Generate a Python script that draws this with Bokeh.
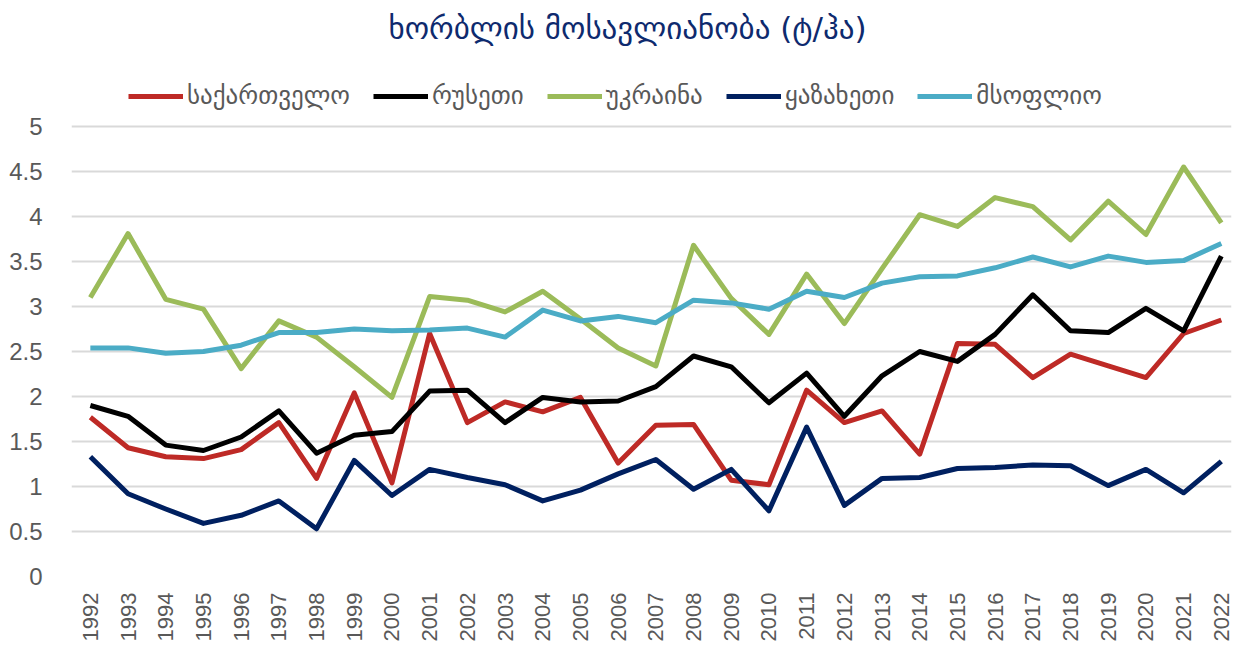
import math
from bokeh.plotting import figure
from bokeh.models import Legend, LegendItem, Range1d, FixedTicker, Label
from bokeh.embed import file_html
from bokeh.resources import INLINE

years = list(range(1992, 2023))
georgia = [1.77, 1.43, 1.33, 1.31, 1.41, 1.71, 1.09, 2.04, 1.04, 2.70, 1.71, 1.94, 1.83, 1.99, 1.26, 1.68,
           1.69, 1.07, 1.02, 2.07, 1.71, 1.84, 1.36, 2.59, 2.58, 2.21, 2.47, 2.34, 2.21, 2.70, 2.85]
russia = [1.90, 1.78, 1.46, 1.40, 1.55, 1.84, 1.37, 1.57, 1.61, 2.06, 2.07, 1.71, 1.99, 1.94, 1.95, 2.11,
          2.45, 2.33, 1.93, 2.26, 1.78, 2.23, 2.50, 2.39, 2.69, 3.13, 2.73, 2.71, 2.98, 2.73, 3.56]
ukraine = [3.10, 3.81, 3.08, 2.97, 2.31, 2.84, 2.66, 2.33, 1.99, 3.11, 3.07, 2.94, 3.17, 2.86, 2.54, 2.34,
           3.68, 3.09, 2.69, 3.36, 2.81, 3.42, 4.02, 3.89, 4.21, 4.11, 3.74, 4.17, 3.80, 4.55, 3.93]
kazakhstan = [1.33, 0.92, 0.75, 0.59, 0.68, 0.84, 0.53, 1.29, 0.90, 1.19, 1.10, 1.02, 0.84, 0.96, 1.14, 1.30,
              0.97, 1.19, 0.73, 1.66, 0.79, 1.09, 1.10, 1.20, 1.21, 1.24, 1.23, 1.01, 1.19, 0.93, 1.28]
world = [2.54, 2.54, 2.48, 2.50, 2.57, 2.71, 2.71, 2.75, 2.73, 2.74, 2.76, 2.66, 2.96, 2.84, 2.89, 2.82,
         3.07, 3.04, 2.97, 3.17, 3.10, 3.26, 3.33, 3.34, 3.43, 3.55, 3.44, 3.56, 3.49, 3.51, 3.70]

series_names = ["საქართველო", "რუსეთი", "უკრაინა", "ყაზახეთი", "მსოფლიო"]
series_values = [georgia, russia, ukraine, kazakhstan, world]
colors = ["#BE2A26", "#000000", "#9BBB59", "#002060", "#4BACC6"]
y_ticks = [0, 0.5, 1, 1.5, 2, 2.5, 3, 3.5, 4, 4.5, 5]
title_text = "ხორბლის მოსავლიანობა (ტ/ჰა)"

# frame: 90 px per unit; headroom above 5 holds the legend and the title
p = figure(frame_width=1160, frame_height=576,
           output_backend="svg", toolbar_location=None,
           x_range=Range1d(1991.5, 2022.27), y_range=Range1d(0, 576 / 90),
           min_border_left=71, min_border_right=8, min_border_top=0, min_border_bottom=61)

title = Label(x=2006.25, y=(576 - 27) / 90, text=title_text, text_align="center", text_baseline="middle",
              text_font="DejaVu Sans", text_font_size="31px", text_color="#0E2A6E")
p.add_layout(title)

items = []
for name, vals, c in zip(series_names, series_values, colors):
    r = p.line(years, vals, line_color=c, line_width=5, line_join="round")
    items.append(LegendItem(label=name, renderers=[r]))

legend = Legend(items=items, orientation="horizontal", location=(57, 466),
                label_text_font="DejaVu Sans", label_text_font_size="25px", label_text_color="#595959",
                glyph_width=55, glyph_height=22, spacing=23, label_standoff=4,
                border_line_color=None, background_fill_alpha=0, padding=0, margin=0)
p.add_layout(legend)

p.xaxis.ticker = FixedTicker(ticks=years)
p.xaxis.major_label_orientation = math.pi / 2
p.xaxis.major_label_text_font = "Liberation Sans"
p.xaxis.major_label_text_font_size = "22px"
p.xaxis.major_label_text_color = "#595959"
p.xaxis.axis_line_color = None
p.xaxis.major_tick_line_color = None
p.xaxis.minor_tick_line_color = None
p.xaxis.major_label_standoff = 10

p.yaxis.ticker = FixedTicker(ticks=y_ticks)
p.yaxis.major_label_overrides = {0.5: "0.5", 1.5: "1.5", 2.5: "2.5", 3.5: "3.5", 4.5: "4.5",
                                 0: "0", 1: "1", 2: "2", 3: "3", 4: "4", 5: "5"}
p.yaxis.major_label_text_font = "Liberation Sans"
p.yaxis.major_label_text_font_size = "24px"
p.yaxis.major_label_text_color = "#595959"
p.yaxis.axis_line_color = None
p.yaxis.major_tick_line_color = None
p.yaxis.minor_tick_line_color = None
p.yaxis.major_label_standoff = 23

p.xgrid.grid_line_color = None
p.ygrid.ticker = FixedTicker(ticks=y_ticks)
p.ygrid.grid_line_color = "#D9D9D9"
p.ygrid.grid_line_width = 2
p.outline_line_color = None

open("out.html", "w").write(file_html(p, INLINE))
